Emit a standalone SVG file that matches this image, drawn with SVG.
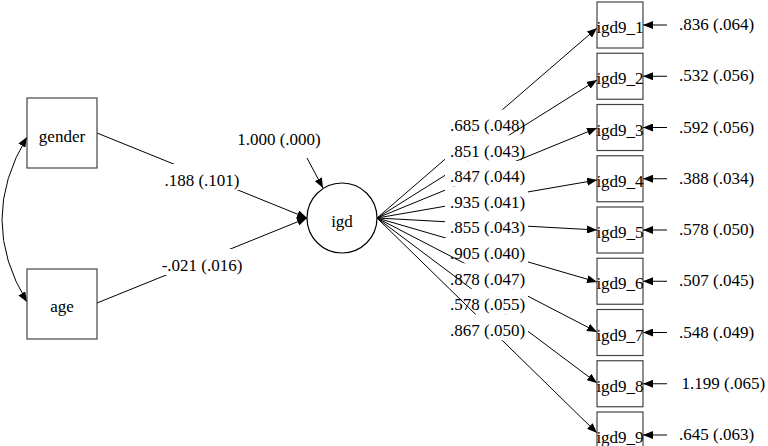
<svg xmlns="http://www.w3.org/2000/svg" width="768" height="446" viewBox="0 0 768 446">
<defs>
<marker id="ah" viewBox="0 0 10 8" refX="10" refY="4" markerWidth="10" markerHeight="8" orient="auto-start-reverse" markerUnits="userSpaceOnUse"><path d="M0,0 L10,4 L0,8 z" fill="#000"/></marker>
<style>
text{font-family:"Liberation Serif","Times New Roman",serif;font-size:17px;fill:#000}
.c{text-anchor:middle}
.ln{stroke:#000;stroke-width:1;fill:none;marker-end:url(#ah)}
.bg{fill:#fff;stroke:none}
.box{fill:#fff;stroke:#444;stroke-width:1.2}
.circ{fill:#fff;stroke:#000;stroke-width:1.2}
</style>
</defs>
<rect width="768" height="446" fill="#fff"/>
<g id="connectors">
<path d="M27,137 Q-23,220 27,302" style="stroke:#000;stroke-width:1;fill:none;marker-start:url(#ah);marker-end:url(#ah)"/>
<g id="p-gender"><line class="ln" x1="97" y1="133" x2="307" y2="218"/><rect class="bg" x="160" y="164" width="84" height="26"/><text class="c" x="202" y="185.5">.188 (.101)</text></g>
<g id="p-age"><line class="ln" x1="97" y1="303" x2="307" y2="218"/><rect class="bg" x="158" y="249" width="88" height="26"/><text class="c" x="202" y="270.5">-.021 (.016)</text></g>
<g id="p-res-igd"><line class="ln" x1="307" y1="158" x2="323" y2="188"/><text class="c" x="279" y="145">1.000 (.000)</text></g>
<g id="l1"><line class="ln" x1="377" y1="218" x2="597" y2="28"/><rect class="bg" x="445" y="109.7" width="83" height="25.6"/><text x="450" y="131">.685 (.048)</text></g>
<g id="l2"><line class="ln" x1="377" y1="218" x2="597" y2="80"/><rect class="bg" x="445" y="135.3" width="83" height="25.6"/><text x="450" y="156.6">.851 (.043)</text></g>
<g id="l3"><line class="ln" x1="377" y1="218" x2="597" y2="128"/><rect class="bg" x="445" y="160.9" width="83" height="25.6"/><text x="450" y="182.2">.847 (.044)</text></g>
<g id="l4"><line class="ln" x1="377" y1="218" x2="597" y2="180"/><rect class="bg" x="445" y="186.5" width="83" height="25.6"/><text x="450" y="207.8">.935 (.041)</text></g>
<g id="l5"><line class="ln" x1="377" y1="218" x2="597" y2="230"/><rect class="bg" x="445" y="212.1" width="83" height="25.6"/><text x="450" y="233.4">.855 (.043)</text></g>
<g id="l6"><line class="ln" x1="377" y1="218" x2="597" y2="282"/><rect class="bg" x="445" y="237.7" width="83" height="25.6"/><text x="450" y="259">.905 (.040)</text></g>
<g id="l7"><line class="ln" x1="377" y1="218" x2="597" y2="332"/><rect class="bg" x="445" y="263.3" width="83" height="25.6"/><text x="450" y="284.6">.878 (.047)</text></g>
<g id="l8"><line class="ln" x1="377" y1="218" x2="597" y2="383"/><rect class="bg" x="445" y="288.9" width="83" height="25.6"/><text x="450" y="310.2">.578 (.055)</text></g>
<g id="l9"><line class="ln" x1="377" y1="218" x2="597" y2="433"/><rect class="bg" x="445" y="314.5" width="83" height="25.6"/><text x="450" y="335.8">.867 (.050)</text></g>
<g id="e1"><line class="ln" x1="667" y1="25" x2="643" y2="25"/><text x="679" y="30">.836 (.064)</text></g>
<g id="e2"><line class="ln" x1="667" y1="76.25" x2="643" y2="76.25"/><text x="679" y="81.25">.532 (.056)</text></g>
<g id="e3"><line class="ln" x1="667" y1="127.5" x2="643" y2="127.5"/><text x="679" y="132.5">.592 (.056)</text></g>
<g id="e4"><line class="ln" x1="667" y1="178.75" x2="643" y2="178.75"/><text x="679" y="183.75">.388 (.034)</text></g>
<g id="e5"><line class="ln" x1="667" y1="230" x2="643" y2="230"/><text x="679" y="235">.578 (.050)</text></g>
<g id="e6"><line class="ln" x1="667" y1="281.25" x2="643" y2="281.25"/><text x="679" y="286.25">.507 (.045)</text></g>
<g id="e7"><line class="ln" x1="667" y1="332.5" x2="643" y2="332.5"/><text x="679" y="337.5">.548 (.049)</text></g>
<g id="e8"><line class="ln" x1="667" y1="383.75" x2="643" y2="383.75"/><text x="681.5" y="388.75">1.199 (.065)</text></g>
<g id="e9"><line class="ln" x1="667" y1="435" x2="643" y2="435"/><text x="679" y="440">.645 (.063)</text></g>
</g>
<g id="gender"><rect class="box" x="27" y="98" width="70" height="70"/><text class="c" x="62" y="141.5">gender</text></g>
<g id="age"><rect class="box" x="27" y="269" width="70" height="70"/><text class="c" x="62" y="311.5">age</text></g>
<g id="igd"><circle class="circ" cx="342" cy="218" r="35"/><text class="c" x="342" y="226.5">igd</text></g>
<g id="igd9_1"><rect class="box" x="597" y="2" width="46" height="46" fill-opacity="0"/><text class="c" x="620" y="33">igd9_1</text></g>
<g id="igd9_2"><rect class="box" x="597" y="53.25" width="46" height="46"/><text class="c" x="620" y="84.25">igd9_2</text></g>
<g id="igd9_3"><rect class="box" x="597" y="104.5" width="46" height="46"/><text class="c" x="620" y="135.5">igd9_3</text></g>
<g id="igd9_4"><rect class="box" x="597" y="155.75" width="46" height="46"/><text class="c" x="620" y="186.75">igd9_4</text></g>
<g id="igd9_5"><rect class="box" x="597" y="207" width="46" height="46"/><text class="c" x="620" y="238">igd9_5</text></g>
<g id="igd9_6"><rect class="box" x="597" y="258.25" width="46" height="46"/><text class="c" x="620" y="289.25">igd9_6</text></g>
<g id="igd9_7"><rect class="box" x="597" y="309.5" width="46" height="46"/><text class="c" x="620" y="340.5">igd9_7</text></g>
<g id="igd9_8"><rect class="box" x="597" y="360.75" width="46" height="46"/><text class="c" x="620" y="391.75">igd9_8</text></g>
<g id="igd9_9"><rect class="box" x="597" y="412" width="46" height="46"/><text class="c" x="620" y="443">igd9_9</text></g>
</svg>
